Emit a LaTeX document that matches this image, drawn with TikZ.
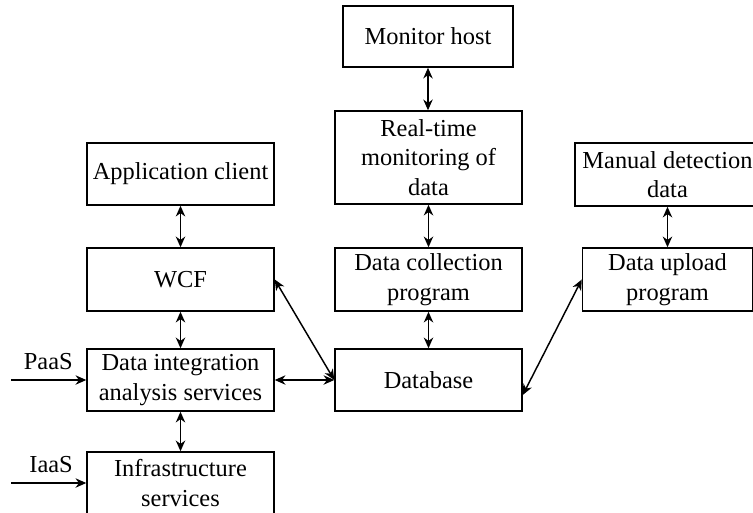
\documentclass[tikz,border=0pt]{standalone}
\usepackage{fontspec}
\setmainfont{Liberation Serif}
\usetikzlibrary{arrows.meta}
\tikzset{
  blk/.style={draw,line width=1.1pt,inner sep=0pt,align=center,
    minimum width=140.25pt,minimum height=46.5pt},
  lnk/.style={<->,line width=1.1pt}
}
\begin{document}
\begin{tikzpicture}[x=0.75pt,y=-0.75pt,>={Stealth[length=8pt,width=7pt,inset=2.5pt]},
   font=\fontsize{18.3}{22}\selectfont]
   \useasboundingbox (0,0) rectangle (753,512);
   \clip (0,0) rectangle (753,512);
   % middle column
   \node[blk,minimum width=127.5pt,minimum height=45.75pt] (host) at (428,36.5) {Monitor host};
   \node[blk,minimum height=69.75pt] (rtm) at (428.5,157.5) {Real-time\\monitoring of\\data};
   \node[blk,minimum height=47.25pt] (collect) at (428.5,279.5) {Data collection\\program};
   \node[blk] (db) at (428.5,380) {Database};
   % left column
   \node[blk] (client) at (180.5,174) {Application client};
   \node[blk,minimum height=47.25pt] (wcf) at (180.5,279.5) {WCF};
   \node[blk] (dias) at (180.5,380) {Data integration\\analysis services};
   \node[blk] (infra) at (180.5,483) {Infrastructure\\services};
   % right column
   \node[blk,minimum width=138.75pt,minimum height=47.25pt] (manual) at (667.5,174.5) {Manual detection\\data};
   \node[blk,minimum width=127.5pt,minimum height=47.25pt] (upload) at (667.5,279.5) {Data upload\\program};
   % inputs
   \node[anchor=east,inner sep=0pt] (paas) at (73,362) {PaaS};
   \node[anchor=east,inner sep=0pt] (iaas) at (73,465) {IaaS};
   \coordinate (pin) at (11,380);
   \coordinate (iin) at (11,483);
   \draw[->,line width=1.1pt] (pin) -- (dias.west);
   \draw[->,line width=1.1pt] (iin) -- (infra.west);
   % links
   \draw[lnk] (host.south) -- (host.south |- rtm.north);
   \draw[lnk] (rtm.south) -- (collect.north);
   \draw[lnk] (collect.south) -- (db.north);
   \draw[lnk] (client.south) -- (wcf.north);
   \draw[lnk] (wcf.south) -- (dias.north);
   \draw[lnk] (dias.south) -- (infra.north);
   \draw[lnk] (manual.south) -- (upload.north);
   \draw[lnk] (wcf.east) -- (db.west);
   \draw[lnk] (dias.east) -- (db.west);
   \draw[lnk] ([yshift=-11.25pt]db.east) -- (upload.west);
\end{tikzpicture}
\end{document}
